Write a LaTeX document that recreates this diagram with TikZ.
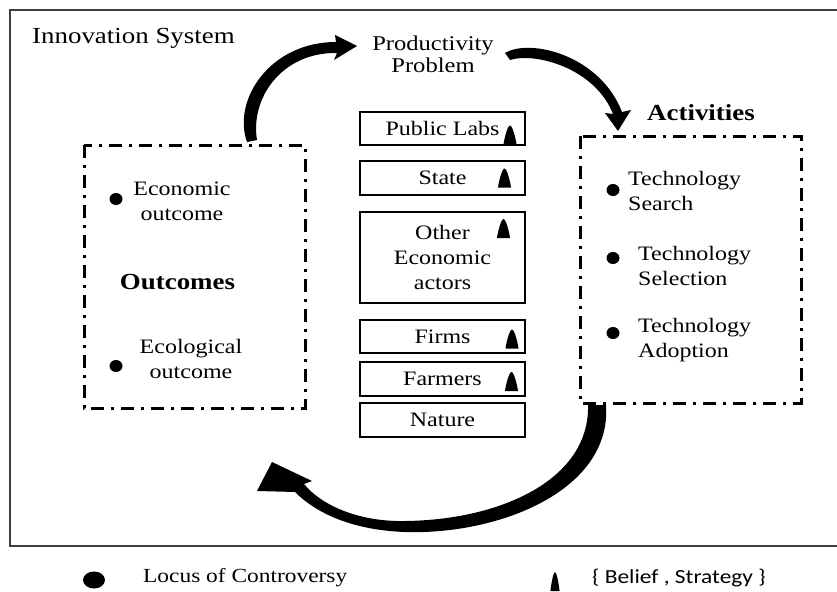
\documentclass[tikz,border=0pt]{standalone}
\usepackage{fontspec}
\setmainfont[FakeStretch=1.17]{Liberation Serif}
\newfontfamily\calibfont[FakeStretch=1.17]{Carlito}
\usetikzlibrary{shapes.geometric}

\tikzset{
  frameline/.style={line width=2pt, draw=black!75},
  groupbox/.style={line width=3pt, dash pattern=on 13pt off 7pt on 3pt off 7pt},
  actorbox/.style={draw, line width=1.3pt, rectangle, minimum width=165pt, inner sep=0pt,
    align=center, font=\fontsize{20.5}{25}\selectfont},
  txt/.style={inner sep=0pt, align=center, font=\fontsize{20.5}{25}\selectfont},
  txtl/.style={inner sep=0pt, align=left, font=\fontsize{20.5}{25}\selectfont},
  boldtxt/.style={inner sep=0pt, font=\fontsize{23}{27}\selectfont\bfseries},
  dot/.style={ellipse, fill=black, inner sep=0pt, minimum width=13pt, minimum height=12pt},
  belief/.pic={\fill (-6.5,9.5) .. controls (-5.5,2) and (-2.2,-9.5) .. (0,-9.5)
                 .. controls (2.2,-9.5) and (5.5,2) .. (6.5,9.5) -- cycle;},
  flow/.style={fill=black}
}

\begin{document}
\begin{tikzpicture}[x=1pt,y=-1pt]
\useasboundingbox (0,0) rectangle (837,591);

% outer frame of the innovation system (open on the right)
\draw[frameline] (837,10) -- (10,10) -- (10,546) -- (837,546);
\node[inner sep=0pt, anchor=base west, font=\fontsize{23}{27}\selectfont] (title) at (32,44) {Innovation System};

% productivity problem (base anchor sits on the last line)
\node[txt, anchor=base, font=\fontsize{21}{22}\selectfont] (problem) at (433,73) {Productivity\\Problem};

% outcomes group
\draw[groupbox] (84,145) rectangle (305,408);
\node[dot] (b1) at (116,199) {};
\node[txt, anchor=base] (econ) at (182,220) {Economic\\outcome};
\node[boldtxt, anchor=base] (outcomes) at (177.5,289) {Outcomes};
\node[dot] (b2) at (116,366) {};
\node[txt, anchor=base] (ecol) at (191,378) {Ecological\\outcome};

% activities group
\node[boldtxt, anchor=base west] (activities) at (647,121) {Activities};
\draw[groupbox] (580,136) rectangle (801,403);
\node[dot] (b3) at (613,190) {};
\node[txtl, anchor=base west] (search) at (628,210) {Technology\\Search};
\node[dot] (b4) at (613,258) {};
\node[txtl, anchor=base west] (select) at (638,285) {Technology\\Selection};
\node[dot] (b5) at (613,333) {};
\node[txtl, anchor=base west] (adopt) at (638,357) {Technology\\Adoption};

% actors
\node[actorbox, minimum height=33pt] (labs) at (442.5,128.5) {Public Labs};
\node[actorbox, minimum height=34pt] (state) at (442.5,178) {State};
\node[actorbox, minimum height=91pt] (other) at (442.5,257.5) {Other\\Economic\\actors};
\node[actorbox, minimum height=33pt] (firms) at (442.5,336.5) {Firms};
\node[actorbox, minimum height=34pt] (farmers) at (442.5,379) {Farmers};
\node[actorbox, minimum height=34pt] (nature) at (442.5,420) {Nature};

\pic at (510,135) {belief};
\pic at (504.5,178) {belief};
\pic at (503.5,228.5) {belief};
\pic at (512,339) {belief};
\pic at (511.5,381.5) {belief};

% cycle arrows
\fill[flow] (247,142) .. controls (232,100) and (270,42) .. (336,42)
  -- (335,35) -- (357,46) -- (334,60) -- (337,53)
  .. controls (282,52) and (250,98) .. (257,140) -- cycle;
\fill[flow] (505,53) .. controls (530,38) and (600,55) .. (622,112)
  -- (631,110) -- (618,131) -- (605,113) -- (613,114)
  .. controls (595,68) and (535,52) .. (510,60) -- cycle;
\fill[flow] (606,405) .. controls (612,490) and (500,535) .. (405,532)
  .. controls (350,530) and (315,512) .. (295,492)
  -- (257,491) -- (272,462) -- (312,481) -- (304,484)
  .. controls (322,506) and (360,522) .. (405,521)
  .. controls (500,520) and (590,480) .. (588,405) -- cycle;

% legend
\node[ellipse, fill=black, inner sep=0pt, minimum width=22pt, minimum height=17pt] (legdot) at (94,580) {};
\node[inner sep=0pt, anchor=base west, font=\fontsize{20}{24}\selectfont] (legdottxt) at (143,582) {Locus of Controversy};
\pic[xscale=0.7] at (555,581.5) {belief};
\node[inner sep=0pt, anchor=base west, font=\fontsize{20}{24}\selectfont\calibfont] (legtri) at (592,583) {\{ Belief , Strategy \}};
\end{tikzpicture}
\end{document}
